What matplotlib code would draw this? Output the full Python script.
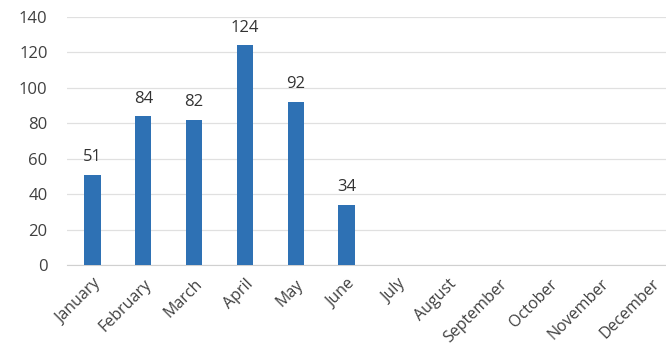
import matplotlib
matplotlib.use("Agg")
import matplotlib.pyplot as plt

months = ['January', 'February', 'March', 'April', 'May', 'June',
          'July', 'August', 'September', 'October', 'November', 'December']
counts = [51, 84, 82, 124, 92, 34]
yticks = [0, 20, 40, 60, 80, 100, 120, 140]

plt.rcParams['font.family'] = ['Open Sans', 'DejaVu Sans']

fig = plt.figure(figsize=(6.66, 3.52), dpi=100)
ax = fig.add_axes([0.1006, 0.247, 0.916, 0.7045])

x = list(range(len(months)))
bars = ax.bar(x[:len(counts)], counts, width=0.32, color='#2e71b4', zorder=3)
for b, v in zip(bars, counts):
    ax.annotate(str(v), (b.get_x() + b.get_width() / 2, v), xytext=(0, 7),
                textcoords='offset points', ha='center', va='bottom',
                fontsize=12, color='#333333')

ax.set_xlim(-0.5, len(months) - 0.5)
ax.set_ylim(0, 140)
ax.set_yticks(yticks)
ax.set_xticks(x)
ax.set_xticklabels(months, rotation=45, ha='right', rotation_mode='anchor')
ax.tick_params(axis='y', length=0, labelsize=12, labelcolor='#404040', pad=14)
ax.tick_params(axis='x', length=0, labelsize=11.5, labelcolor='#404040', pad=8)
ax.grid(axis='y', color='#e0e0e0', linewidth=0.9, zorder=0)
for s in ['top', 'right', 'left']:
    ax.spines[s].set_visible(False)
ax.spines['bottom'].set_color('#d0d0d0')

fig.savefig('out.png', dpi=100)
